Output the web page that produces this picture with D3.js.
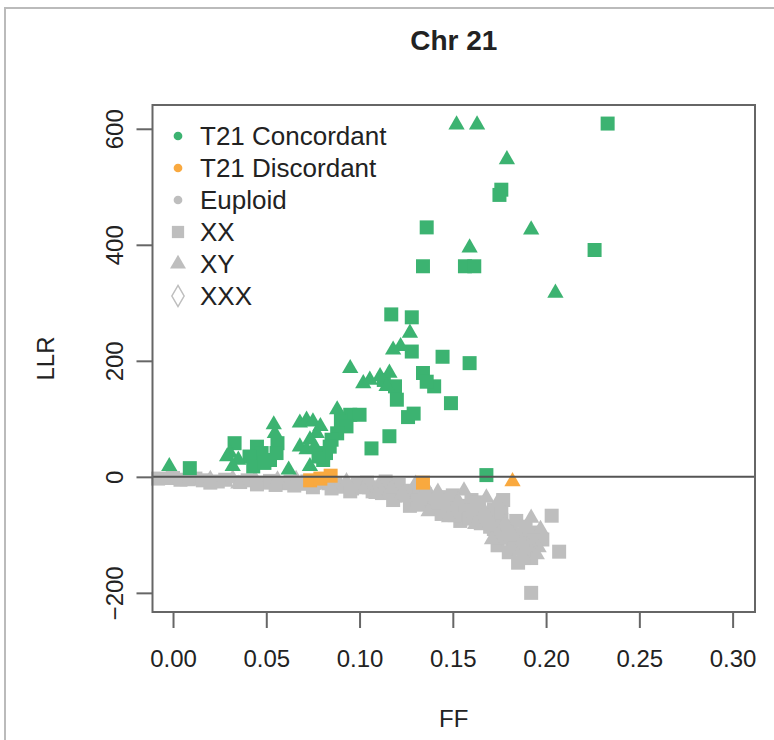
<!DOCTYPE html>
<html>
<head>
<meta charset="utf-8">
<script src="https://cdn.jsdelivr.net/npm/d3@7"></script>
<style>
body { margin: 0; background: #fff; }
text { font-family: "Liberation Sans", Arial, sans-serif; fill: #222; }
</style>
</head>
<body>
<div id="display"><svg width="774" height="740"></svg></div>
<script>
// T21 concordant, XX (square)
var concXXff  = [0.233, 0.176, 0.175, 0.136, 0.226, 0.134, 0.1565, 0.1615, 0.117, 0.128, 0.128, 0.1445, 0.159, 0.134, 0.140, 0.136, 0.113, 0.119, 0.120, 0.149, 0.126, 0.129, 0.116, 0.1064, 0.168, 0.095, 0.100, 0.090, 0.093, 0.088, 0.085, 0.084, 0.082, 0.0805, 0.078, 0.056, 0.0555, 0.045, 0.0475, 0.041, 0.043, 0.049, 0.052, 0.033, 0.009];
var concXXllr = [609, 495, 486, 430, 391, 363, 363, 363, 280, 275, 216, 207, 196, 179, 156, 164, 167, 156, 133, 127, 103, 109, 70, 49, 3, 107, 107, 98, 87, 75, 64, 52, 41, 29, 35, 58, 41, 52, 41, 35, 18, 24, 29, 58, 15];
// T21 concordant, XY (triangle)
var concXYff  = [0.152, 0.163, 0.179, 0.192, 0.159, 0.205, 0.127, 0.122, 0.118, 0.116, 0.095, 0.102, 0.1055, 0.111, 0.1145, 0.088, 0.068, 0.0716, 0.075, 0.079, 0.077, 0.0734, 0.068, 0.0716, 0.076, 0.054, 0.0546, 0.0734, 0.062, 0.0305, 0.029, 0.035, 0.032, -0.002];
var concXYllr = [607, 607, 547, 426, 395, 317, 248, 225, 219, 179, 187, 161, 167, 173, 156, 116, 93, 98, 95, 87, 75, 64, 52, 47, 52, 90, 75, 18, 12, 41, 35, 29, 18, 18];
// T21 discordant
var discXXff  = [0.0735, 0.079, 0.0845, 0.134];
var discXXllr = [-6, -3, 2, -10];
var discXYff  = [0.182];
var discXYllr = [-8];
// euploid
var euXXff  = [-0.008, 0.000, 0.004, 0.012, 0.016, 0.024, 0.028, 0.036, 0.040, 0.048, 0.052, 0.060, 0.063, 0.069, 0.072, 0.078, 0.081, 0.087, 0.090, 0.096, 0.099, 0.104, 0.107, 0.112, 0.114, 0.119, 0.121, 0.126, 0.128, 0.132, 0.134, 0.138, 0.140, 0.144, 0.146, 0.150, 0.152, 0.154, 0.158, 0.160, 0.164, 0.166, 0.170, 0.172, 0.176, 0.178, 0.177, 0.174, 0.182, 0.184, 0.188, 0.192, 0.194, 0.198, 0.185, 0.203, 0.207, 0.192,
    0.020, 0.045, 0.055, 0.065, 0.075, 0.085, 0.095, 0.105, 0.115, 0.118, 0.127, 0.131, 0.135, 0.141, 0.145, 0.147, 0.151, 0.157, 0.159, 0.161, 0.163, 0.165, 0.169, 0.172, 0.175, 0.181, 0.183, 0.189, 0.191, 0.193, 0.180, 0.188, 0.176];
var euXXllr = [-3, -2, -5, -3, -6, -8, -5, -9, -6, -10, -7, -11, -8, -12, -8, -10, -6, -11, -17, -20, -13, -10, -25, -28, -8, -32, -14, -24, -42, -30, -48, -38, -55, -64, -44, -32, -54, -76, -62, -40, -50, -68, -86, -56, -74, -96, -40, -118, -112, -76, -100, -140, -96, -108, -148, -67, -129, -200,
    -10, -13, -14, -15, -18, -20, -25, -18, -22, -40, -50, -40, -30, -45, -35, -56, -66, -50, -72, -58, -44, -80, -70, -90, -105, -98, -124, -86, -128, -110, -130, -140, -62];
var euXYff  = [-0.004, 0.008, 0.020, 0.032, 0.044, 0.056, 0.066, 0.075, 0.084, 0.093, 0.102, 0.110, 0.117, 0.124, 0.130, 0.136, 0.142, 0.148, 0.156, 0.162, 0.168, 0.174, 0.171, 0.180, 0.186, 0.190, 0.192, 0.196,
    0.035, 0.109, 0.123, 0.137, 0.153, 0.167, 0.178, 0.187, 0.195, 0.197];
var euXYllr = [-6, -8, -4, -3, -4, -5, -4, -14, -15, -8, -22, -16, -20, -36, -12, -20, -26, -70, -24, -82, -36, -44, -108, -88, -128, -118, -71, -122,
    -12, -30, -28, -60, -42, -60, -80, -112, -134, -90];

var xTicks = [0, 0.05, 0.10, 0.15, 0.20, 0.25, 0.30];
var yTicks = [-200, 0, 200, 400, 600];
var legendLabels = ["T21 Concordant", "T21 Discordant", "Euploid", "XX", "XY", "XXX"];

var GREEN = "#3cb371", ORANGE = "#f9a93f", GRAY = "#bebebe", AXIS = "#666";

var svg = d3.select("#display svg");
var L = 152.5, R = 755, T = 105, B = 612;

var x = d3.scaleLinear().domain([-0.011, 0.312]).range([L, R]);
var y = d3.scaleLinear().domain([-233, 641]).range([B, T]);

// outer frame of the screenshot
svg.append("path")
    .attr("d", "M5,740 V8 H774")
    .style("fill", "none").style("stroke", "#bbb").style("stroke-width", 2);

var sq = d3.symbol().type(d3.symbolSquare).size(196);
var tri = d3.symbol().type(d3.symbolTriangle).size(115);

function points(ff, llr, shape, color) {
    svg.append("g").selectAll("path")
	.data(d3.zip(ff, llr))
	.enter().append("path")
	.attr("transform", function (d) { return "translate(" + x(d[0]) + "," + y(d[1]) + ")"; })
	.attr("d", shape)
	.style("fill", color);
}

points(euXXff, euXXllr, sq, GRAY);
points(euXYff, euXYllr, tri, GRAY);
points(concXXff, concXXllr, sq, GREEN);
points(concXYff, concXYllr, tri, GREEN);
points(discXXff, discXXllr, sq, ORANGE);
points(discXYff, discXYllr, tri, ORANGE);

// zero line
svg.append("line")
    .attr("x1", L).attr("x2", R)
    .attr("y1", y(0)).attr("y2", y(0))
    .style("stroke", "#555").style("stroke-width", 2);

// box
svg.append("rect")
    .attr("x", L).attr("y", T)
    .attr("width", R - L).attr("height", B - T)
    .style("fill", "none").style("stroke", AXIS).style("stroke-width", 2);

// axes
var xAxis = d3.axisBottom(x).tickValues(xTicks).tickSize(16).tickSizeOuter(0)
    .tickFormat(d3.format(".2f")).tickPadding(22);
var gx = svg.append("g").attr("transform", "translate(0," + B + ")").call(xAxis);
gx.select(".domain").remove();
gx.selectAll("line").style("stroke", AXIS).style("stroke-width", 2);
gx.selectAll("text").style("font-size", "24px").style("fill", "#222");

var yAxis = d3.axisLeft(y).tickValues(yTicks).tickSize(16).tickSizeOuter(0);
var gy = svg.append("g").attr("transform", "translate(" + L + ",0)").call(yAxis);
gy.select(".domain").remove();
gy.selectAll("line").style("stroke", AXIS).style("stroke-width", 2);
gy.selectAll("text")
    .attr("x", null).attr("dy", null)
    .attr("transform", "translate(-38,0) rotate(-90)")
    .attr("text-anchor", "middle").attr("dominant-baseline", "central")
    .text(function (d) { return d < 0 ? "\u2212" + Math.abs(d) : d; })
    .style("font-size", "24px").style("fill", "#222");

// titles
svg.append("text").attr("x", (L + R) / 2).attr("y", 50)
    .attr("text-anchor", "middle")
    .style("font-size", "28px").style("font-weight", "bold")
    .text("Chr 21");
svg.append("text").attr("x", (L + R) / 2).attr("y", 727)
    .attr("text-anchor", "middle").style("font-size", "24px").style("fill", "#222")
    .text("FF");
svg.append("text").attr("transform", "translate(54," + (T + B) / 2 + ") rotate(-90)")
    .attr("text-anchor", "middle").style("font-size", "24px").style("fill", "#222")
    .text("LLR");

// legend
var legShapes = [
    { s: d3.symbol().type(d3.symbolCircle).size(60), fill: GREEN, stroke: "none" },
    { s: d3.symbol().type(d3.symbolCircle).size(60), fill: ORANGE, stroke: "none" },
    { s: d3.symbol().type(d3.symbolCircle).size(60), fill: GRAY, stroke: "none" },
    { s: d3.symbol().type(d3.symbolSquare).size(150), fill: GRAY, stroke: "none" },
    { s: d3.symbol().type(d3.symbolTriangle).size(110), fill: GRAY, stroke: "none" },
    { s: d3.symbol().type(d3.symbolDiamond).size(130), fill: "none", stroke: GRAY }
];
var leg = svg.append("g").selectAll("g")
    .data(legendLabels)
    .enter().append("g")
    .attr("transform", function (d, i) { return "translate(178," + (136 + i * 32) + ")"; });
leg.append("path")
    .attr("d", function (d, i) { return legShapes[i].s(); })
    .style("fill", function (d, i) { return legShapes[i].fill; })
    .style("stroke", function (d, i) { return legShapes[i].stroke; })
    .style("stroke-width", 1.5);
leg.append("text")
    .attr("x", 22).attr("dy", "0.36em")
    .style("font-size", "26px").style("fill", "#222")
    .text(function (d) { return d; });
</script>
</body>
</html>
